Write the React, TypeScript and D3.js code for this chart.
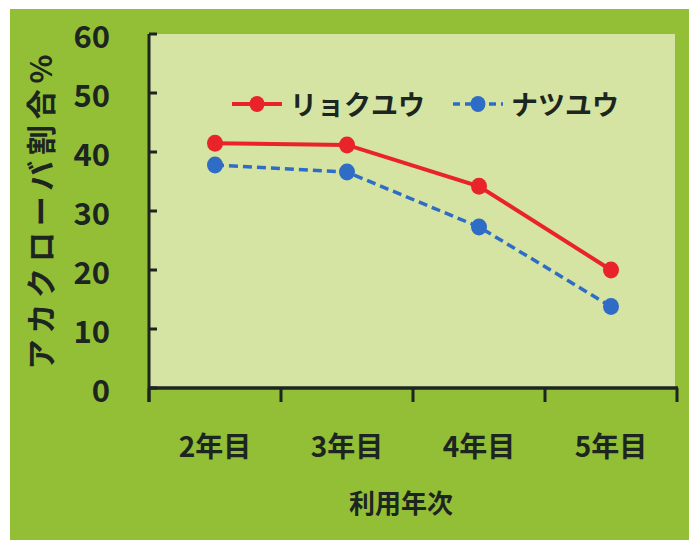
import React from "react";
import * as d3 from "d3";

const categories = ["2年目", "3年目", "4年目", "5年目"];
const ryokuyu = [41.5, 41.2, 34.2, 20.0];
const natsuyu = [37.8, 36.6, 27.3, 13.8];
const yTicks = [0, 10, 20, 30, 40, 50, 60];
const seriesNames = ["リョクユウ", "ナツユウ"];
const yLabel = "アカクローバ割合%";
const xLabel = "利用年次";

const W = 689;
const H = 540;
const FONT = "'Noto Sans CJK JP', 'Noto Sans', sans-serif";
const TEXT = "#1c2520";
const RED = "#e8242a";
const BLUE = "#2f6cc6";

export default function App() {
  const x = d3.scaleBand<string>().domain(categories).range([149, 677]);
  const y = d3.scaleLinear().domain([0, 60]).range([388, 34]);
  const cx = (c: string) => (x(c) as number) + x.bandwidth() / 2;
  const line = d3
    .line<number>()
    .x((_, i) => cx(categories[i]))
    .y((d) => y(d));

  const series = [
    { name: seriesNames[0], values: ryokuyu, color: RED, dash: undefined, width: 4 },
    { name: seriesNames[1], values: natsuyu, color: BLUE, dash: "9,5", width: 3.5 },
  ];
  const legendX = [232, 453];

  return (
    <svg
      width={W}
      height={H}
      style={{ position: "absolute", left: 0, top: 0, display: "block" }}
      fontFamily={FONT}
      fontWeight="bold"
    >
      <rect x={0} y={0} width={W} height={H} fill="#ffffff" />
      <rect x={10} y={9} width={W - 10} height={H - 9} fill="#93bf36" />
      <rect x={150} y={34} width={525} height={354} fill="#d5e4a2" />

      {/* y axis */}
      <line x1={149} x2={149} y1={y(60)} y2={402} stroke={TEXT} strokeWidth={3} />
      {yTicks.map((t) => (
        <g key={t}>
          <line x1={149} x2={157} y1={y(t)} y2={y(t)} stroke={TEXT} strokeWidth={3} />
          <text
            x={110}
            y={y(t)}
            textAnchor="end"
            dominantBaseline="central"
            fontSize={31}
            fill={TEXT}
          >
            {t}
          </text>
        </g>
      ))}

      {/* x axis */}
      <line x1={148} x2={678} y1={y(0)} y2={y(0)} stroke={TEXT} strokeWidth={3.5} />
      {[...categories.map((c) => x(c) as number), 677].map((p, i) => (
        <line key={i} x1={p} x2={p} y1={y(0)} y2={402} stroke={TEXT} strokeWidth={3} />
      ))}
      {categories.map((c) => (
        <text
          key={c}
          x={cx(c)}
          y={445}
          textAnchor="middle"
          dominantBaseline="central"
          fontSize={28}
          fill={TEXT}
        >
          {c}
        </text>
      ))}
      <text x={401} y={501} textAnchor="middle" dominantBaseline="central" fontSize={26} fill={TEXT}>
        {xLabel}
      </text>
      <text
        transform="translate(39,212) rotate(-90)"
        textAnchor="middle"
        dominantBaseline="central"
        fontSize={30}
        textLength={315}
        lengthAdjust="spacing"
        fill={TEXT}
      >
        {yLabel}
      </text>

      {/* series */}
      {series.map((s) => (
        <g key={s.name}>
          <path
            d={line(s.values) || ""}
            fill="none"
            stroke={s.color}
            strokeWidth={s.width}
            strokeDasharray={s.dash}
          />
          {s.values.map((v, i) => (
            <ellipse key={i} cx={cx(categories[i])} cy={y(v)} rx={8} ry={8.5} fill={s.color} />
          ))}
        </g>
      ))}

      {/* legend */}
      {series.map((s, i) => (
        <g key={s.name}>
          <line
            x1={legendX[i]}
            x2={legendX[i] + 50}
            y1={104}
            y2={104}
            stroke={s.color}
            strokeWidth={s.width}
            strokeDasharray={s.dash ? "7,5" : undefined}
          />
          <ellipse cx={legendX[i] + 25} cy={104} rx={7.5} ry={8} fill={s.color} />
          <text x={legendX[i] + 58} y={103} dominantBaseline="central" fontSize={27} fill={TEXT}>
            {s.name}
          </text>
        </g>
      ))}
    </svg>
  );
}
